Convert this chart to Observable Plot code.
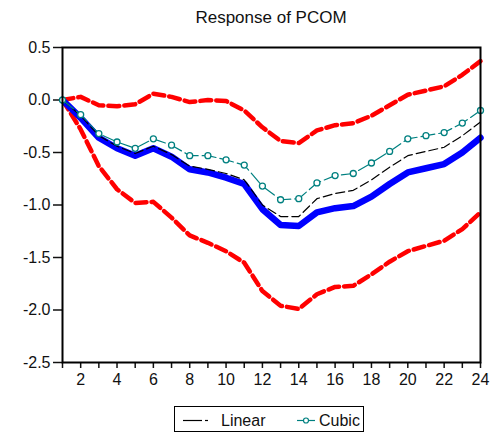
<!DOCTYPE html>
<html>
<head>
<meta charset="utf-8">
<script src="https://cdn.jsdelivr.net/npm/d3@7"></script>
<script src="https://cdn.jsdelivr.net/npm/@observablehq/plot@0.6"></script>
<style>
  body { margin: 0; background: #fff; font-family: Arial, "Liberation Sans", sans-serif; }
  #title { width: 493px; height: 30px; box-sizing: border-box; padding: 6px 13px 0 62px; line-height: 24px; text-align: center; font-size: 17px; color: #111; }
  #legend { height: 36px; position: relative; }
</style>
</head>
<body>
<div id="title">Response of PCOM</div>
<div id="chart"></div>
<div id="legend"></div>
<script>
const periods = [1,2,3,4,5,6,7,8,9,10,11,12,13,14,15,16,17,18,19,20,21,22,23,24];
const upperBand = [0, 0.03, -0.05, -0.06, -0.04, 0.06, 0.03, -0.02, 0.0, -0.01, -0.10, -0.26, -0.39, -0.41, -0.29, -0.24, -0.22, -0.15, -0.05, 0.05, 0.09, 0.13, 0.24, 0.37];
const lowerBand = [0, -0.28, -0.63, -0.85, -0.98, -0.97, -1.12, -1.29, -1.36, -1.44, -1.55, -1.82, -1.96, -1.99, -1.85, -1.78, -1.77, -1.66, -1.54, -1.44, -1.39, -1.34, -1.23, -1.07];
const response = [0, -0.17, -0.36, -0.46, -0.53, -0.46, -0.54, -0.66, -0.69, -0.74, -0.80, -1.04, -1.19, -1.20, -1.07, -1.03, -1.01, -0.92, -0.80, -0.69, -0.65, -0.61, -0.50, -0.36];
const linear = [0, -0.15, -0.34, -0.44, -0.51, -0.44, -0.52, -0.63, -0.66, -0.70, -0.76, -1.00, -1.11, -1.11, -0.94, -0.89, -0.86, -0.76, -0.64, -0.53, -0.49, -0.45, -0.34, -0.21];
const cubic = [0, -0.14, -0.32, -0.40, -0.46, -0.37, -0.43, -0.53, -0.53, -0.57, -0.62, -0.82, -0.95, -0.94, -0.79, -0.72, -0.70, -0.60, -0.49, -0.37, -0.34, -0.31, -0.22, -0.10];
const yTicks = [-2.5, -2.0, -1.5, -1.0, -0.5, 0.0, 0.5];
const legendLabels = ["Linear", "Cubic"];

const rows = (vals) => periods.map((p, i) => ({x: p, y: vals[i]}));

const plot = Plot.plot({
  width: 493,
  height: 370,
  marginTop: 17,
  marginBottom: 38,
  marginLeft: 62,
  marginRight: 13,
  style: {fontFamily: "Arial, 'Liberation Sans', sans-serif", fontSize: "16px", color: "#111", background: "white"},
  x: {domain: [1, 24]},
  y: {domain: [-2.5, 0.5]},
  marks: [
    Plot.axisY({ticks: yTicks, tickSize: 9, tickPadding: 3, tickFormat: d => d.toFixed(1), label: null, strokeWidth: 1.5, fontSize: 16}),
    Plot.axisX({ticks: periods, tickSize: 6, tickPadding: 5, tickFormat: d => d % 2 === 0 ? String(d) : "", label: null, strokeWidth: 1.5, fontSize: 16}),
    Plot.line(rows(upperBand), {x: "x", y: "y", stroke: "#ff0000", strokeWidth: 4.5, strokeDasharray: "11,5"}),
    Plot.line(rows(lowerBand), {x: "x", y: "y", stroke: "#ff0000", strokeWidth: 4.5, strokeDasharray: "11,5"}),
    Plot.line(rows(response), {x: "x", y: "y", stroke: "#0000ff", strokeWidth: 6.5}),
    Plot.line(rows(linear), {x: "x", y: "y", stroke: "#000000", strokeWidth: 1.2, strokeDasharray: "9,4"}),
    Plot.line(rows(cubic), {x: "x", y: "y", stroke: "#008080", strokeWidth: 1.2, strokeDasharray: "14,4"}),
    Plot.dot(rows(cubic), {x: "x", y: "y", r: 3, stroke: "#008080", strokeWidth: 1.3, fill: "white"}),
    Plot.frame({stroke: "#000", strokeWidth: 2})
  ]
});
document.getElementById("chart").appendChild(plot);

// legend
const ns = "http://www.w3.org/2000/svg";
const lg = document.createElementNS(ns, "svg");
lg.setAttribute("width", 493);
lg.setAttribute("height", 36);
lg.style.display = "block";
lg.innerHTML = `
  <rect x="174.5" y="6.5" width="189" height="25" fill="white" stroke="#000" stroke-width="1"/>
  <line x1="183" x2="202" y1="20.5" y2="20.5" stroke="#000" stroke-width="1.2"/>
  <line x1="205" x2="208" y1="20.5" y2="20.5" stroke="#000" stroke-width="1.2"/>
  <text x="221" y="26" font-family="Arial, 'Liberation Sans', sans-serif" font-size="16" fill="#111">${legendLabels[0]}</text>
  <line x1="297" x2="315" y1="20.5" y2="20.5" stroke="#008080" stroke-width="1.2"/>
  <circle cx="306" cy="20.5" r="2.5" fill="white" stroke="#008080" stroke-width="1.2"/>
  <text x="319" y="26" font-family="Arial, 'Liberation Sans', sans-serif" font-size="16" fill="#111">${legendLabels[1]}</text>
`;
document.getElementById("legend").appendChild(lg);
</script>
</body>
</html>
